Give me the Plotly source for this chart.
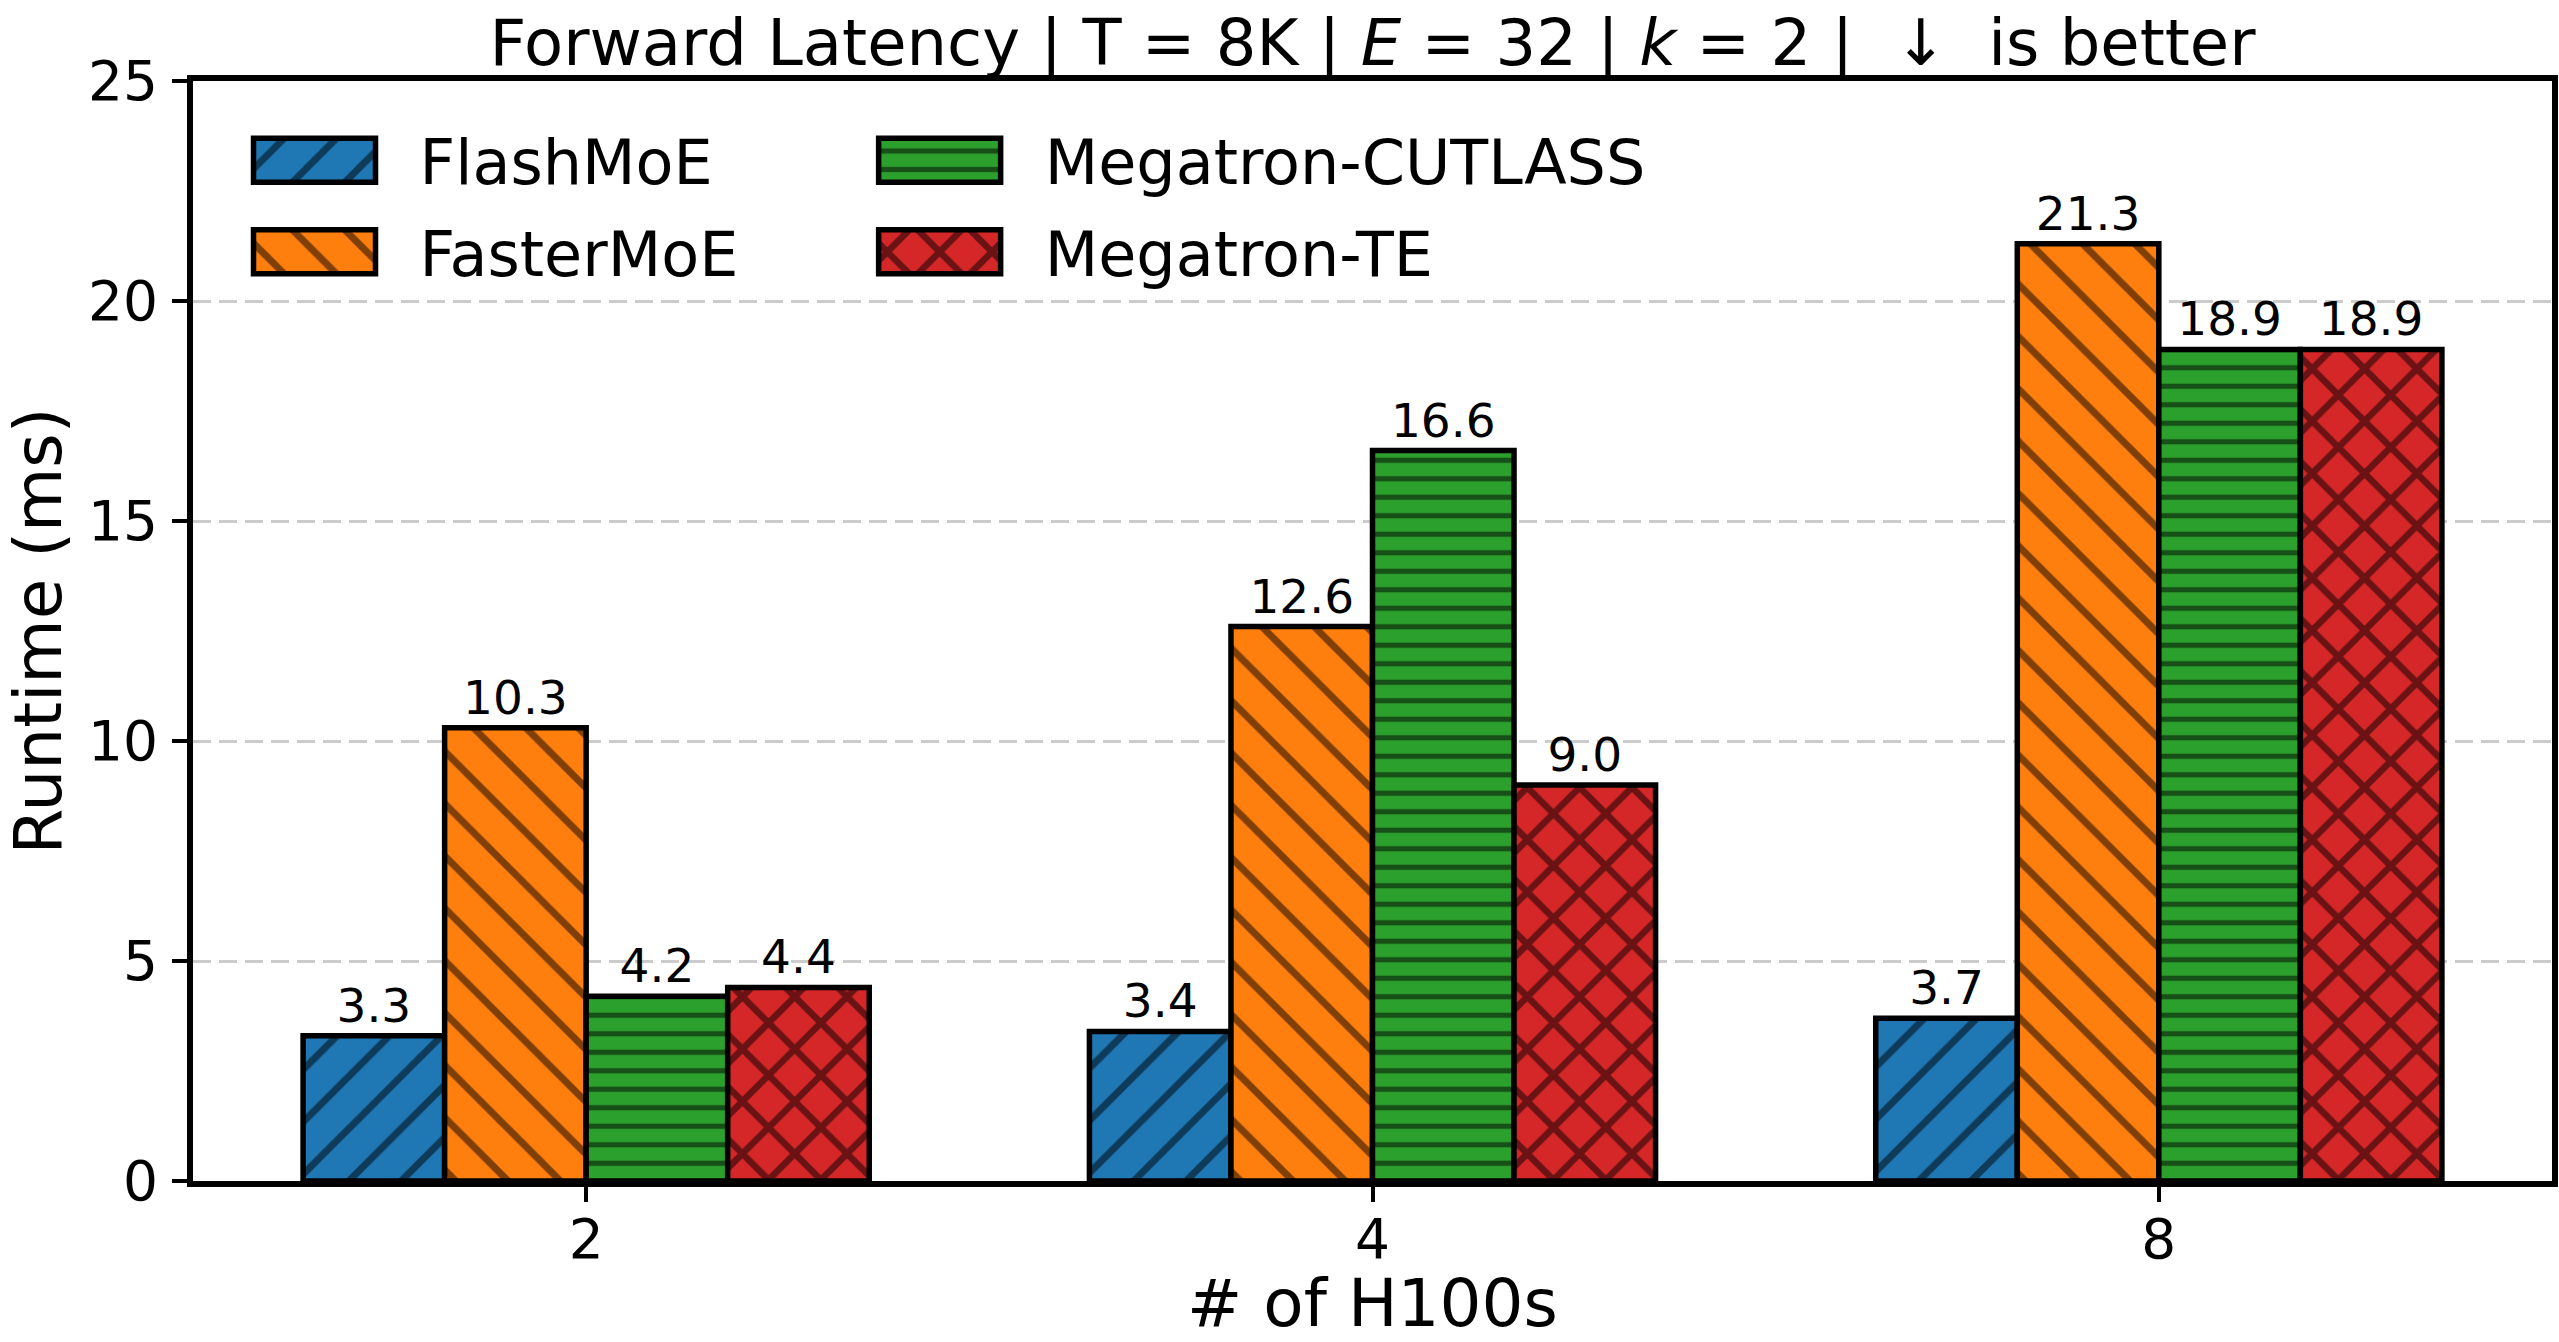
import plotly.graph_objects as go

# ---- data ----
gpus = ["2", "4", "8"]
flashmoe = [3.3, 3.4, 3.7]
fastermoe = [10.3, 12.6, 21.3]
megatron_cutlass = [4.2, 16.6, 18.9]
megatron_te = [4.4, 9.0, 18.9]

series_names = ["FlashMoE", "FasterMoE", "Megatron-CUTLASS", "Megatron-TE"]
series_values = [flashmoe, fastermoe, megatron_cutlass, megatron_te]
colors = ["#1f77b4", "#ff7f0e", "#2ca02c", "#d62728"]
shapes = ["/", "\\", "-", "x"]
pattern_sizes = [37, 37, 18.5, 37]
pattern_solid = [0.19, 0.19, 0.28, 0.33]
legend_ids = ["legend", "legend", "legend2", "legend2"]

FONT = "DejaVu Sans"

fig = go.Figure()
for name, vals, col, shp, psz, psol, lg in zip(series_names, series_values, colors,
                                                shapes, pattern_sizes, pattern_solid, legend_ids):
    fig.add_trace(go.Bar(
        x=gpus, y=vals, name=name, legend=lg, legendgroup=name,
        marker=dict(color=col, line=dict(color="black", width=5.5),
                    pattern=dict(shape=shp, fgcolor="black", size=psz, solidity=psol,
                                 fillmode="overlay")),
        texttemplate="%{y:.1f}", textposition="outside",
        textfont=dict(family=FONT, size=47, color="black"),
        cliponaxis=False,
    ))

legend_common = dict(
    xanchor="left", yanchor="top", bgcolor="rgba(0,0,0,0)",
    font=dict(family=FONT, size=62, color="black"),
    itemwidth=200, traceorder="grouped", tracegroupgap=8,
    itemclick=False, itemdoubleclick=False,
)

fig.update_layout(
    width=2559, height=1342,
    margin=dict(l=193, r=7, t=81, b=161, autoexpand=False),
    paper_bgcolor="white", plot_bgcolor="white",
    font=dict(family=FONT, color="black"),
    barmode="group", bargap=0.28, bargroupgap=0,
    title=dict(
        text="Forward Latency | T = 8K | <i>E</i> = 32 | <i>k</i> = 2 |  \u2193  is better",
        x=0.5, xref="paper", xanchor="center",
        y=1, yref="paper", yanchor="bottom", pad=dict(b=16),
        font=dict(family=FONT, size=64, color="black"),
    ),
    legend=dict(x=0.007, y=0.9705, **legend_common),
    legend2=dict(x=0.272, y=0.9705, **legend_common),
    xaxis=dict(
        type="category", range=[-0.5, 2.5], automargin=False,
        title=dict(text="# of H100s", font=dict(family=FONT, size=66), standoff=86),
        tickfont=dict(family=FONT, size=55),
        ticks="outside", ticklen=15, tickwidth=4, tickcolor="black",
        ticklabelstandoff=-10,
        showline=True, linewidth=6, linecolor="black", mirror=True,
        showgrid=False, zeroline=False,
    ),
    yaxis=dict(
        range=[0, 25], dtick=5, tick0=0, automargin=False,
        title=dict(text="Runtime (ms)", font=dict(family=FONT, size=66), standoff=35),
        tickfont=dict(family=FONT, size=55),
        ticks="outside", ticklen=15, tickwidth=4, tickcolor="black",
        ticklabelstandoff=3,
        showline=True, linewidth=6, linecolor="black", mirror=True,
        showgrid=True, gridcolor="#cccccc", gridwidth=3, griddash="18px,8px",
        zeroline=False,
    ),
)

post_js = """
document.body.style.margin = '0';
(function(){
  var gd = document.getElementById('{plot_id}');
  function traceIndexOf(el){
    while(el && el !== gd){
      var d = el.__data__;
      if(d && d[0] && d[0].trace) return d[0].trace.index;
      el = el.parentNode;
    }
    return null;
  }
  function fix(){
    try {
      var fills = {};
      gd.querySelectorAll('.barlayer .point path').forEach(function(p){
        var idx = traceIndexOf(p);
        if(idx !== null && fills[idx] === undefined) fills[idx] = p.style.fill;
      });
      gd.querySelectorAll('.legendpoints path').forEach(function(p){
        var idx = traceIndexOf(p);
        if(idx === null) return;
        p.setAttribute('d', 'M-61,-22H61V22H-61Z');
        if(fills[idx]) p.style.fill = fills[idx];
        p.style.strokeWidth = '5.5px';
        p.style.stroke = 'black';
      });
    } catch(e) {}
  }
  fix();
  if(gd && gd.on) gd.on('plotly_afterplot', fix);
  var n = 0;
  var iv = setInterval(function(){ fix(); n += 1; if(n > 40) clearInterval(iv); }, 50);
})();
"""

fig.write_html("out.html", config={"displayModeBar": False, "responsive": False},
               post_script=post_js)
